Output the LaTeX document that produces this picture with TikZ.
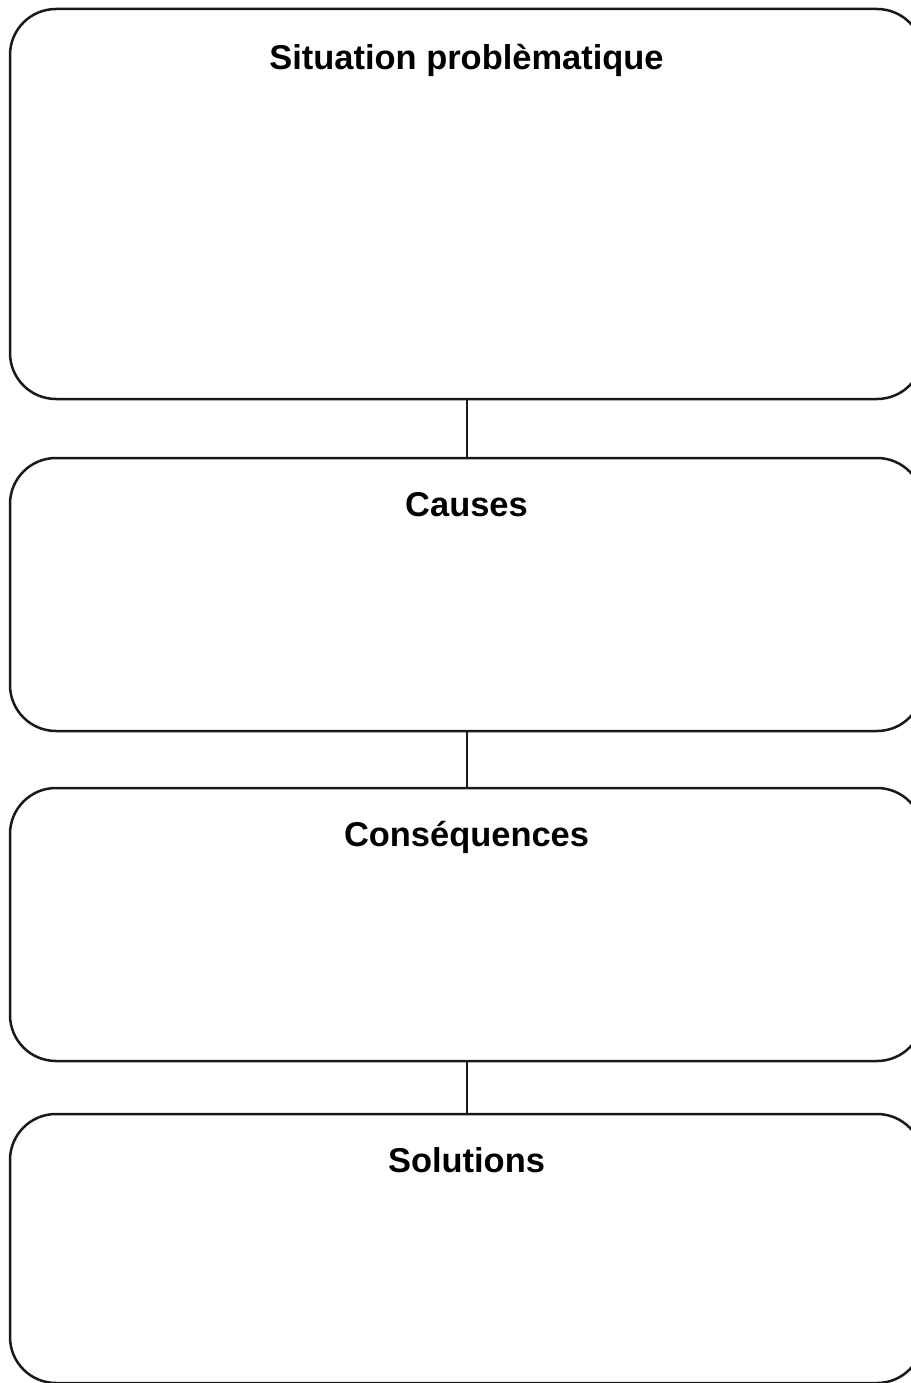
\documentclass[tikz,border=0pt]{standalone}
\usepackage{fontspec}
\newfontfamily\headfont{Liberation Sans}
\usetikzlibrary{positioning}
\tikzstyle{every box} = [draw=black!90, line width=0.05cm]
\tikzstyle{box} = [rectangle, rounded corners=0.92cm, minimum width=18.26cm, inner sep=0pt, outer sep=0pt, every box]
\tikzstyle{heading} = [inner sep=0pt, outer sep=0pt, text height=0.5cm, text depth=0.15cm, font=\headfont\bfseries\fontsize{19.6}{23}\selectfont]
\tikzstyle{link} = [draw=black!90, line width=0.04cm]

\begin{document}
\begin{tikzpicture}
  \useasboundingbox (0,0) rectangle (18.22,-27.66);
  \node[box, minimum height=7.8cm] (situation) at (9.33,-4.08) {};
  \node[box, minimum height=5.46cm] (causes) [below=1.18cm of situation] {};
  \node[box, minimum height=5.46cm] (consequences) [below=1.14cm of causes] {};
  \node[box, minimum height=5.38cm] (solutions) [below=1.06cm of consequences] {};
  \node[heading] (tsituation) [below=0.72cm of situation.north] {Situation problèmatique};
  \node[heading] (tcauses) [below=0.66cm of causes.north] {Causes};
  \node[heading] (tconsequences) [below=0.66cm of consequences.north] {Conséquences};
  \node[heading] (tsolutions) [below=0.66cm of solutions.north] {Solutions};
  \draw[link] (situation) -- (causes);
  \draw[link] (causes) -- (consequences);
  \draw[link] (consequences) -- (solutions);
\end{tikzpicture}
\end{document}
